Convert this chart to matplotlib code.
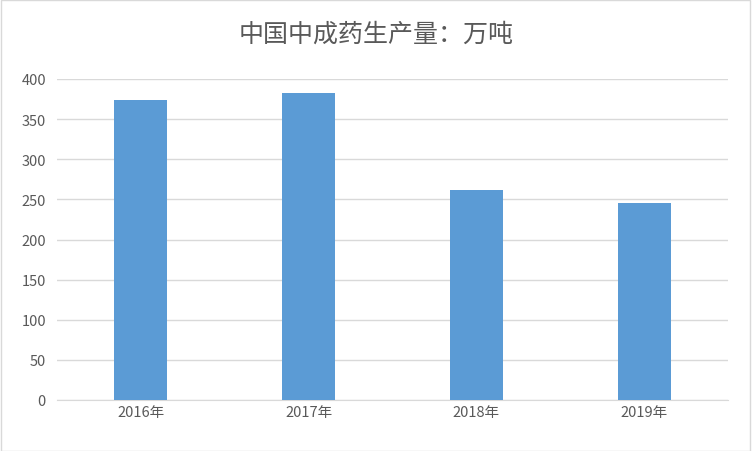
import matplotlib
matplotlib.use("Agg")
import matplotlib.pyplot as plt
from matplotlib.patches import Rectangle

plt.rcParams['font.family'] = ['Noto Sans CJK SC', 'DejaVu Sans']

categories = ['2016年', '2017年', '2018年', '2019年']
values = [374, 383, 262, 246]
yticks = [0, 50, 100, 150, 200, 250, 300, 350, 400]

fig = plt.figure(figsize=(7.52, 4.52), dpi=100)
ax = fig.add_axes([57/752, 1-401/452, (728-57)/752, (401-80)/452])
x = range(len(categories))
ax.bar(x, values, width=0.315, color='#5B9BD5', zorder=3)
ax.set_xlim(-0.5, 3.5)
ax.set_ylim(0, 400)
ax.set_yticks(yticks)
ax.set_xticks(list(x))
ax.set_xticklabels(categories)
ax.grid(axis='y', color='#D9D9D9', linewidth=1, zorder=0)
for s in ['top', 'right', 'left']:
    ax.spines[s].set_visible(False)
ax.spines['bottom'].set_color('#D9D9D9')
ax.tick_params(length=0, colors='#595959', labelsize=10.5)
ax.tick_params(axis='y', pad=8)
fig.text(0.5, 1-35/452, '中国中成药生产量：万吨', ha='center', va='center',
         fontsize=18, color='#595959')
fig.patches.append(Rectangle((0.001, 0.001), 0.997, 0.997, transform=fig.transFigure,
                             fill=False, edgecolor='#D9D9D9', linewidth=1))
fig.savefig('out.png', dpi=100)
